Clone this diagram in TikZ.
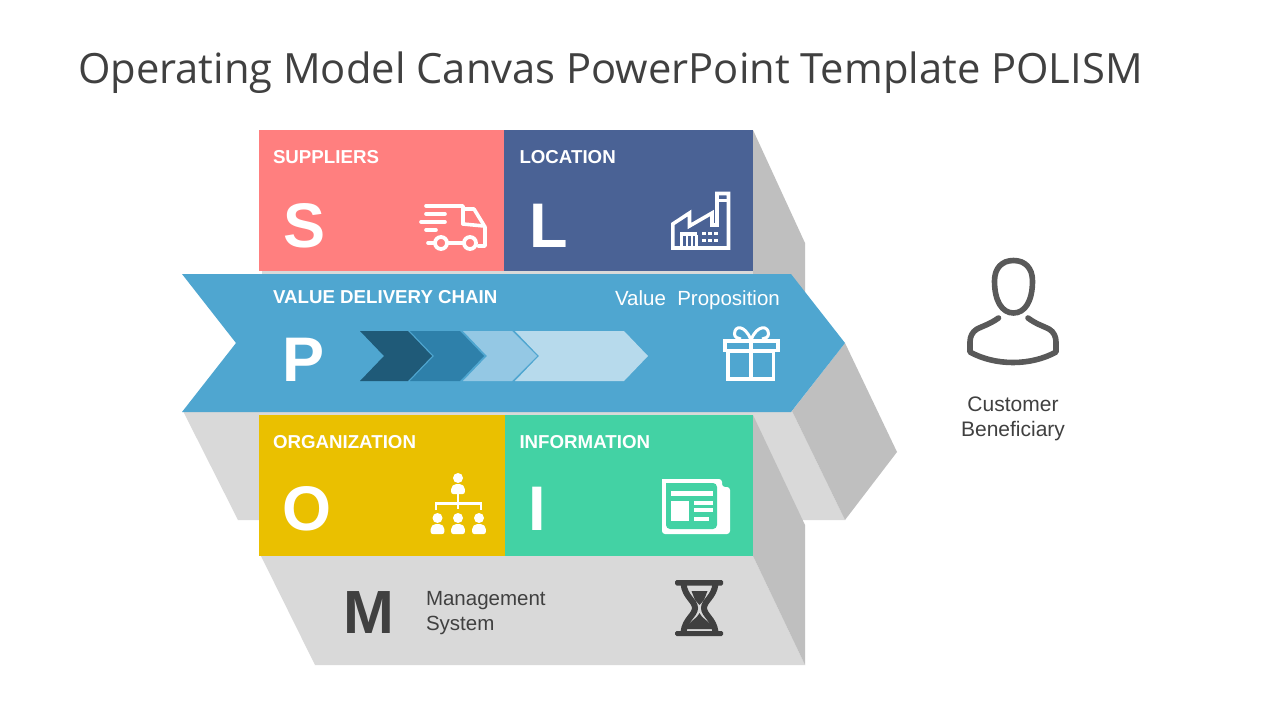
\documentclass[tikz,border=0pt]{standalone}
\usepackage{fontspec}
\setmainfont{Liberation Sans}
\newfontfamily\titlefont{Open Sans}
\definecolor{cpink}{HTML}{FF7F7F}
\definecolor{cnavy}{HTML}{4A6295}
\definecolor{cblue}{HTML}{4FA6D0}
\definecolor{cyellow}{HTML}{EAC000}
\definecolor{cgreen}{HTML}{43D2A4}
\definecolor{clight}{HTML}{D9D9D9}
\definecolor{cdark}{HTML}{BFBFBF}
\definecolor{ctext}{HTML}{404040}
\definecolor{cperson}{HTML}{595959}
\definecolor{chA}{HTML}{1F5A78}
\definecolor{chB}{HTML}{2E80AA}
\definecolor{chC}{HTML}{94C8E4}
\definecolor{chD}{HTML}{B7DAEC}
\tikzset{
  lbl/.style={inner sep=0pt,outer sep=0pt,anchor=base west},
  heading/.style={lbl,text=white,font=\fontsize{18.7}{18.7}\selectfont\bfseries},
  bigletter/.style={lbl,text=white,font=\fontsize{63}{63}\selectfont\bfseries},
  body/.style={lbl,text=ctext,font=\fontsize{20.5}{25}\selectfont},
  whiteicon/.style={draw=white,line width=3.6pt,line join=miter},
  roundicon/.style={draw=white,line width=3.6pt,line cap=round,line join=round},
}
\begin{document}
\begin{tikzpicture}[x=1pt,y=-1pt]
\useasboundingbox (0,0) rectangle (1280,720);
\fill[white] (0,0) rectangle (1280,720);
% back faces
\fill[cdark] (753,130) -- (805,243) -- (805,300) -- (753,300) -- cycle;
\fill[clight] (262,268) rectangle (753,276);
\fill[clight] (183,411) -- (238,520) -- (845,520) -- (792,411) -- cycle;
\fill[cdark] (845,343) -- (897,452) -- (845,520) -- (792,411) -- cycle;
\fill[clight] (261,556) -- (315,665) -- (805,665) -- (753,556) -- cycle;
\fill[cdark] (753,415) -- (805,525) -- (805,665) -- (753,556) -- cycle;
% faces
\fill[cpink] (259,130) rectangle (504,271);
\fill[cnavy] (504,130) rectangle (753,271);
\fill[cyellow] (259,415) rectangle (505,556);
\fill[cgreen] (505,415) rectangle (753,556);
\fill[cblue] (182,274) -- (791,274) -- (845,343) -- (791,412) -- (182,412) -- (236,343) -- cycle;
% chevrons
\fill[chD] (515,331) -- (624,331) -- (648,356) -- (624,381) -- (515,381) -- (539,356) -- cycle;
\fill[chC] (463,331) -- (512,331) -- (537,356) -- (512,381) -- (463,381) -- (487,356) -- cycle;
\fill[chB] (410,331) -- (460,331) -- (484,356) -- (460,381) -- (410,381) -- (434,356) -- cycle;
\fill[chA] (360,331) -- (408,331) -- (432,356) -- (408,381) -- (360,381) -- (384,356) -- cycle;
% title
\node[lbl,text=ctext,font=\fontsize{41.7}{44}\selectfont\titlefont] (title) at (78,83) {Operating Model Canvas PowerPoint Template POLISM};
% headings
\node[heading] (hs) at (273,163) {SUPPLIERS};
\node[heading] (hl) at (519.5,163) {LOCATION};
\node[heading] (hv) at (273,303) {VALUE DELIVERY CHAIN};
\node[heading] (ho) at (273,448) {ORGANIZATION};
\node[heading] (hi) at (519.5,448) {INFORMATION};
\node[lbl,text=white,font=\fontsize{20.5}{20}\selectfont] (vp) at (615,305) {Value\ \ Proposition};
% letters
\node[bigletter] (ls) at (283,247) {S};
\node[bigletter] (ll) at (529,247) {L};
\node[bigletter] (lp) at (282.5,381) {P};
\node[bigletter] (lo) at (282.5,530) {O};
\node[bigletter] (li) at (528,530.5) {I};
\node[lbl,text=ctext,font=\fontsize{61}{61}\selectfont\bfseries] (lm) at (343,633) {M};
\node[body] (m1) at (426,605) {Management};
\node[body] (m2) at (426,630) {System};
\node[body,anchor=base,font=\fontsize{21}{25}\selectfont] (c1) at (1013,411) {Customer};
\node[body,anchor=base,font=\fontsize{21}{25}\selectfont] (c2) at (1013,436) {Beneficiary};
% truck
\draw[roundicon] (426,206) -- (463,206) -- (463,224);
\draw[roundicon] (463,209) -- (474,209) -- (485,227) -- (485,246) -- (478,246);
\draw[roundicon] (463,224) -- (484,226);
\draw[roundicon] (426,214) -- (445,214);
\draw[roundicon] (421,222) -- (445,222);
\draw[roundicon] (426,230) -- (436,230);
\draw[roundicon] (428,243) -- (434,243);
\draw[roundicon] (448,243) -- (463,243);
\draw[white,line width=3.8pt] (441,243) circle (6);
\draw[white,line width=3.8pt] (470,243) circle (6);
% factory
\draw[whiteicon] (672.8,248) -- (672.8,224) -- (689.5,213) -- (689.5,226) -- (712,213) -- (712,225) -- (717,225) -- (717,193.5) -- (728.5,193.5) -- (728.5,248) -- cycle;
\draw[white,line width=3pt] (717,200) -- (728.5,200);
\fill[white] (680,232) rectangle (697,235.5);
\foreach \dx in {680,685.5,690.5,695} \fill[white] (\dx,235) rectangle +(2.6,13);
\foreach \dx in {702,708,714} \foreach \dy in {232,238.5} \fill[white] (\dx,\dy) rectangle +(4,3.2);
% gift
\draw[whiteicon] (724.8,340.8) rectangle (778,350.5);
\draw[whiteicon] (728,351) rectangle (773.5,379);
\draw[white,line width=3.6pt] (751,340) -- (751,379);
\draw[white,line width=3pt] (750.5,339) .. controls (745,325) and (734.5,325) .. (734.5,334) .. controls (734.5,337) and (738,339) .. (741,339);
\draw[white,line width=3pt] (751.5,339) .. controls (757,325) and (768.5,325) .. (768.5,334) .. controls (768.5,337) and (765,339) .. (762,339);
% organization
\newcommand{\orgperson}[2]{%
  \fill[white] (#1,#2) circle (5);
  \fill[white,rounded corners=2pt] (#1-6.8,#2+16) -- (#1-6.8,#2+9) -- (#1-3.5,#2+6) -- (#1+3.5,#2+6) -- (#1+6.8,#2+9) -- (#1+6.8,#2+16) -- cycle;
}
\orgperson{458}{478}
\orgperson{437.5}{518}
\orgperson{458}{518}
\orgperson{479}{518}
\draw[white,line width=2.8pt] (458,494) -- (458,509);
\draw[white,line width=2.8pt] (436,510) -- (436,503.5) -- (481,503.5) -- (481,510);
% newspaper
\fill[white,rounded corners=3pt] (662,479) -- (722,479) -- (722,487) -- (730,487) -- (730,534) -- (662,534) -- cycle;
\fill[white] (662,479) rectangle (680,500);
\fill[cgreen,rounded corners=4pt] (666,500) -- (666,529) -- (717,529) -- (717,483) -- (666,483) -- cycle;
\fill[cgreen] (666,483) rectangle (680,500);
\fill[white] (671,491) rectangle (713,496);
\fill[white] (671,501) rectangle (689,521);
\fill[white] (694,501) rectangle (713,504.5);
\fill[white] (694,508) rectangle (713,512);
\fill[white] (694,517) rectangle (709,521);
% hourglass
\fill[ctext,rounded corners=1.5pt] (675,580) rectangle (723,585.5);
\fill[ctext,rounded corners=1.5pt] (675,631) rectangle (723,636);
\draw[ctext,line width=6pt] (683.5,584) .. controls (685,597) and (695,601) .. (695,608) .. controls (695,615) and (685,619) .. (683.5,632);
\draw[ctext,line width=6pt] (715.5,584) .. controls (714,597) and (704,601) .. (704,608) .. controls (704,615) and (714,619) .. (715.5,632);
\fill[ctext] (691.5,591) -- (707.5,591) -- (704,600) -- (699.5,605) -- (695,600) -- cycle;
\fill[ctext] (699.5,613) .. controls (696,620) and (688,622) .. (685,629) -- (714,629) .. controls (711,622) and (703,620) .. (699.5,613) -- cycle;
% person
\draw[cperson,line width=5.6pt] (1013.5,260.5) .. controls (1002,260.5) and (994.5,268) .. (994.5,281) .. controls (994.5,301) and (1002,313) .. (1013.5,313) .. controls (1025,313) and (1032.5,301) .. (1032.5,281) .. controls (1032.5,268) and (1025,260.5) .. (1013.5,260.5) -- cycle;
\draw[cperson,line width=5.6pt,line cap=round,line join=round] (998.5,318) .. controls (990,324) and (983,326) .. (977,329) .. controls (972,332) and (970,337) .. (970,342) -- (970,352) .. controls (995,366) and (1031,366) .. (1056,352) -- (1056,342) .. controls (1056,337) and (1054,332) .. (1049,329) .. controls (1043,326) and (1036,324) .. (1028,318);
\end{tikzpicture}
\end{document}
